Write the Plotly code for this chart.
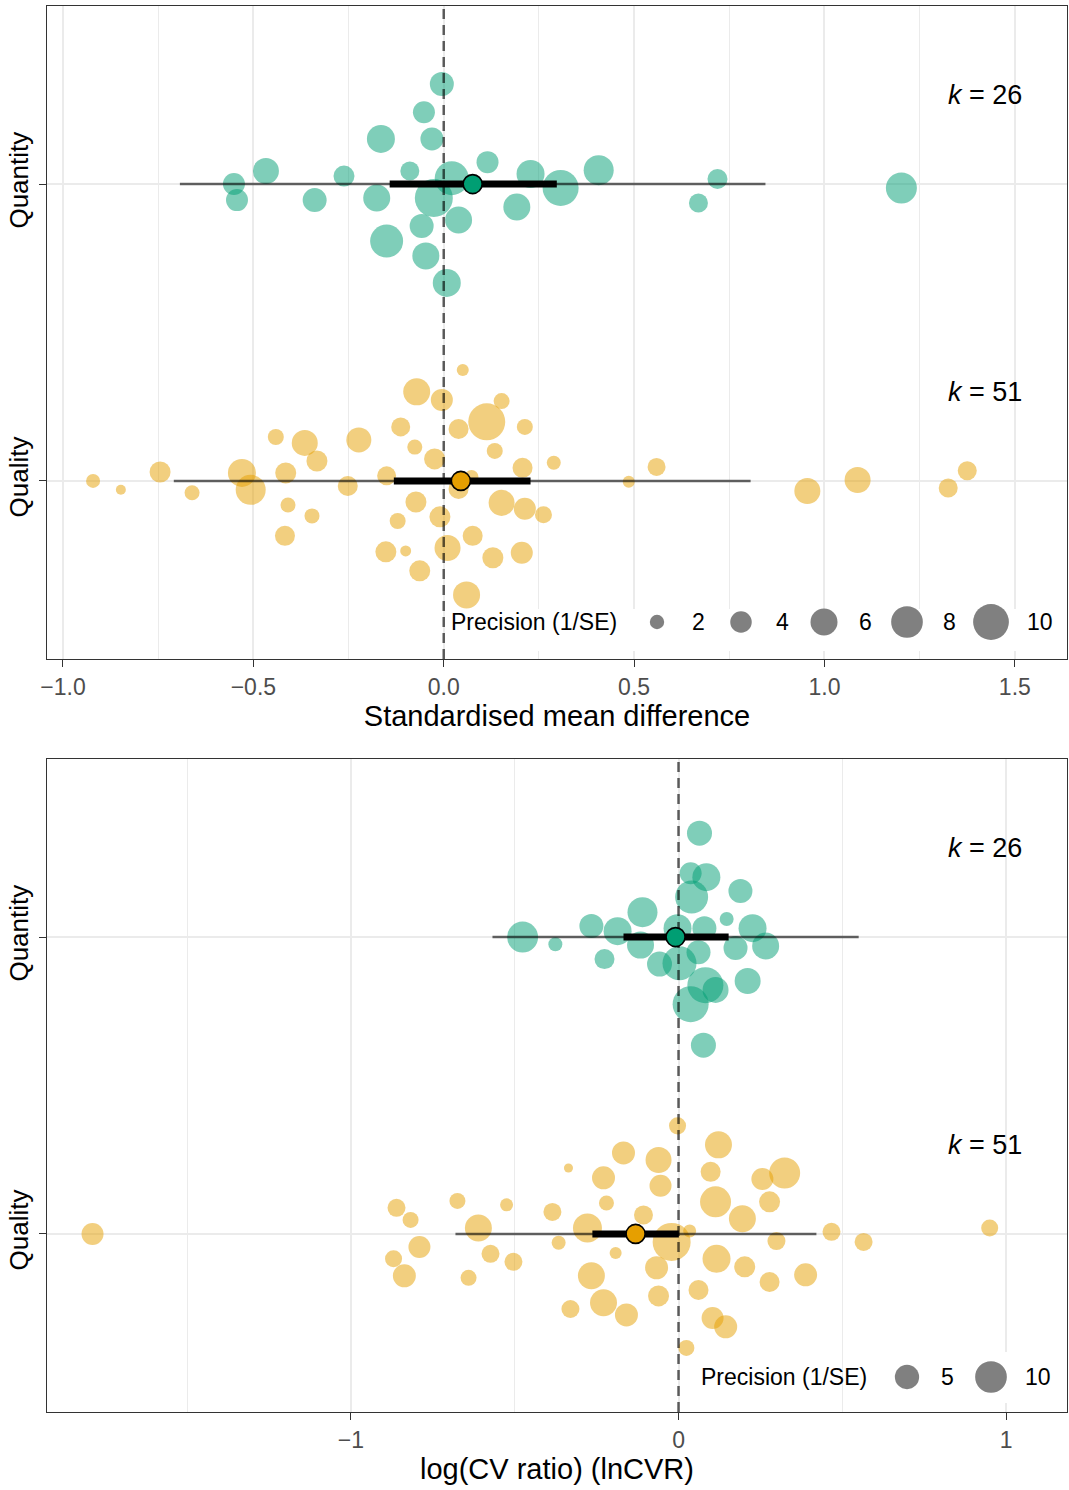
import numpy as np
import plotly.graph_objects as go

FONT = "Liberation Sans, Arial, Helvetica, sans-serif"

# ---------------- data ----------------
groups = ["Quality", "Quantity"]          # y positions 1, 2
group_colors = ["#E69F00", "#009E73"]

# Standardised mean difference panel: effect sizes, vertical jitter, precision (1/SE)
smd_quantity_x = [-0.005, -0.052, -0.165, -0.031, -0.467, -0.262, -0.089, 0.115, 0.228, -0.551,
                  0.021, 0.307, -0.543, -0.339, -0.176, -0.026, 0.192, 0.039, -0.058, -0.150,
                  -0.047, 0.008, 0.407, 0.719, 0.669, 1.202]
smd_quantity_jit = [0.337, 0.242, 0.152, 0.152, 0.044, 0.027, 0.044, 0.074, 0.034, 0.0,
                    0.020, -0.013, -0.054, -0.054, -0.047, -0.047, -0.077, -0.121, -0.141, -0.192,
                    -0.242, -0.333, 0.047, 0.017, -0.064, -0.013]
smd_quantity_prec = [4.85, 4.16, 6.39, 4.50, 5.60, 3.83, 3.22, 4.16, 6.39, 4.16,
                     9.11, 10.12, 4.16, 4.85, 5.99, 11.18, 5.99, 5.99, 4.85, 8.62,
                     5.99, 6.39, 7.25, 3.52, 3.22, 7.69]

smd_quality_x = [0.050, -0.071, -0.005, 0.152, 0.113, -0.113, 0.039, 0.213, -0.441, -0.365,
                 -0.223, -0.076, 0.134, -0.333, -0.024, 0.289, 0.207, -0.745, -0.530, -0.415,
                 -0.150, 0.073, -0.921, -0.848, -0.661, -0.507, -0.252, 0.039, -0.073, 0.152,
                 0.213, 0.262, -0.409, -0.346, -0.010, -0.121, -0.417, 0.076, 0.010, -0.152,
                 -0.100, 0.129, 0.205, -0.063, 0.060, 0.486, 0.559, 0.955, 1.087, 1.325, 1.375]
smd_quality_jit = [0.374, 0.300, 0.273, 0.269, 0.199, 0.182, 0.175, 0.182, 0.148, 0.128,
                   0.138, 0.114, 0.101, 0.067, 0.074, 0.061, 0.044, 0.030, 0.027, 0.027,
                   0.017, 0.013, 0.0, -0.030, -0.040, -0.030, -0.017, -0.027, -0.071, -0.074,
                   -0.094, -0.114, -0.081, -0.118, -0.121, -0.135, -0.185, -0.185, -0.226, -0.239,
                   -0.236, -0.259, -0.242, -0.303, -0.384, -0.003, 0.047, -0.034, 0.003, -0.024, 0.034]
smd_quality_prec = [1.50, 5.99, 4.16, 2.40, 10.64, 3.22, 3.52, 2.40, 2.40, 5.60,
                    5.22, 2.16, 2.40, 3.83, 3.83, 1.92, 3.52, 3.83, 6.39, 3.83,
                    3.22, 1.92, 1.92, 1.12, 2.16, 7.25, 3.52, 3.52, 3.83, 5.60,
                    4.16, 2.66, 2.16, 2.16, 3.83, 2.40, 3.52, 3.52, 5.60, 3.83,
                    1.30, 3.83, 4.16, 3.83, 5.99, 1.50, 2.93, 5.60, 5.60, 3.22, 3.22]

# summary estimates (order: Quality, Quantity)
smd_est = [0.045, 0.076]
smd_ci_lo = [-0.131, -0.142]
smd_ci_hi = [0.228, 0.297]
smd_pi_lo = [-0.709, -0.693]
smd_pi_hi = [0.806, 0.845]
smd_k = [51, 26]

# log CV ratio panel
cvr_quantity_x = [0.064, 0.037, 0.085, 0.189, 0.040, -0.110, 0.147, -0.266, -0.186, -0.003,
                  0.079, 0.226, -0.476, -0.376, -0.116, 0.174, 0.266, 0.061, -0.226, -0.058,
                  0.003, 0.082, 0.113, 0.211, 0.037, 0.076]
cvr_quantity_jit = [0.350, 0.215, 0.202, 0.155, 0.135, 0.084, 0.061, 0.037, 0.020, 0.030,
                    0.030, 0.030, 0.0, -0.024, -0.027, -0.037, -0.030, -0.051, -0.074, -0.091,
                    -0.088, -0.162, -0.178, -0.148, -0.226, -0.364]
cvr_quantity_prec = [5.41, 3.80, 7.29, 4.84, 11.06, 8.70, 0.90, 4.84, 7.29, 7.29,
                     4.84, 7.29, 9.46, 0.90, 6.63, 4.84, 6.63, 4.84, 2.89, 5.41,
                     11.90, 13.69, 6.00, 6.00, 13.69, 5.41]

cvr_quality_x = [-1.789, -0.861, -0.818, -0.675, -0.525, -0.611, -0.385, -0.791, -0.870, -0.837,
                 -0.574, -0.504, -0.641, -0.366, -0.003, 0.122, -0.168, -0.061, -0.336, 0.098,
                 0.324, 0.256, -0.229, -0.055, 0.113, 0.278, -0.220, -0.107, 0.195, -0.278,
                 0.034, -0.021, 0.467, 0.299, 0.565, 0.950, -0.192, 0.116, -0.067, 0.202,
                 -0.266, 0.388, 0.278, 0.061, -0.061, -0.229, -0.330, -0.159, 0.104, 0.144, 0.024]
cvr_quality_jit = [0.0, 0.088, 0.047, 0.111, 0.098, 0.020, 0.074, -0.044, -0.084, -0.141,
                   -0.067, -0.094, -0.148, -0.030, 0.364, 0.300, 0.273, 0.249, 0.222, 0.209,
                   0.205, 0.185, 0.189, 0.162, 0.108, 0.108, 0.104, 0.064, 0.051, 0.020,
                   0.010, -0.027, 0.007, -0.024, -0.027, 0.020, -0.064, -0.084, -0.114, -0.111,
                   -0.141, -0.138, -0.162, -0.189, -0.209, -0.232, -0.253, -0.273, -0.283, -0.313, -0.384]
cvr_quality_prec = [3.80, 2.10, 1.44, 1.44, 0.68, 6.63, 2.10, 3.80, 1.76, 4.31,
                    2.10, 2.10, 1.44, 0.90, 1.76, 6.63, 4.31, 6.00, 0.11, 2.89,
                    9.46, 3.80, 4.31, 3.80, 9.46, 3.33, 1.16, 2.48, 6.63, 7.98,
                    0.68, 15.60, 2.10, 2.10, 2.10, 1.76, 0.49, 7.29, 4.31, 3.33,
                    6.63, 4.31, 2.89, 2.89, 3.33, 6.63, 2.10, 4.31, 3.80, 4.31, 1.44]

cvr_est = [-0.131, -0.009]
cvr_ci_lo = [-0.263, -0.168]
cvr_ci_hi = [0.001, 0.153]
cvr_pi_lo = [-0.681, -0.568]
cvr_pi_hi = [0.421, 0.550]
cvr_k = [51, 26]

smd_legend_breaks = [2, 4, 6, 8, 10]
cvr_legend_breaks = [5, 10]

# ---------------- layout geometry (pixels) ----------------
W, H = 1069, 1490
ML, MR, MT, MB = 47, 2, 6, 78
TOP_PANEL = (6, 659)
BOT_PANEL = (759, 1412)
PLOT_H = H - MT - MB


def xdom(px):
    return (px - ML) / (W - ML - MR)


def ydom(py, panel):
    return (panel[1] - py) / (panel[1] - panel[0])


# size scales (diameter in px) for precision, one per panel
def size_smd(p):
    return 12.26 * np.sqrt(p) - 3.0


def size_cvr(p):
    return 8.0 * np.sqrt(p) + 6.4


fig = go.Figure()

YR = [0.4, 2.6]


def add_panel(xa, ya, pts, est, ci_lo, ci_hi, pi_lo, pi_hi, size_fn):
    for gi in range(2):
        x, jit, prec = pts[gi]
        fig.add_trace(go.Scatter(
            x=x, y=[gi + 1 + j for j in jit], mode="markers",
            marker=dict(size=[size_fn(p) for p in prec], color=group_colors[gi],
                        opacity=0.5, line=dict(width=0)),
            xaxis=xa, yaxis=ya, showlegend=False, hoverinfo="skip"))
    fig.add_trace(go.Scatter(
        x=[0, 0], y=YR, mode="lines",
        line=dict(color="rgba(0,0,0,0.62)", width=2.5, dash="10px,6px"),
        xaxis=xa, yaxis=ya, showlegend=False, hoverinfo="skip"))
    for gi in range(2):
        fig.add_trace(go.Scatter(
            x=[pi_lo[gi], pi_hi[gi]], y=[gi + 1, gi + 1], mode="lines",
            line=dict(color="rgba(0,0,0,0.6)", width=2.5),
            xaxis=xa, yaxis=ya, showlegend=False, hoverinfo="skip"))
        fig.add_trace(go.Scatter(
            x=[ci_lo[gi], ci_hi[gi]], y=[gi + 1, gi + 1], mode="lines",
            line=dict(color="black", width=7),
            xaxis=xa, yaxis=ya, showlegend=False, hoverinfo="skip"))
        fig.add_trace(go.Scatter(
            x=[est[gi]], y=[gi + 1], mode="markers",
            marker=dict(size=19, color=group_colors[gi], line=dict(color="black", width=1.6)),
            xaxis=xa, yaxis=ya, showlegend=False, hoverinfo="skip"))


add_panel("x", "y",
          [(smd_quality_x, smd_quality_jit, smd_quality_prec),
           (smd_quantity_x, smd_quantity_jit, smd_quantity_prec)],
          smd_est, smd_ci_lo, smd_ci_hi, smd_pi_lo, smd_pi_hi, size_smd)
add_panel("x2", "y2",
          [(cvr_quality_x, cvr_quality_jit, cvr_quality_prec),
           (cvr_quantity_x, cvr_quantity_jit, cvr_quantity_prec)],
          cvr_est, cvr_ci_lo, cvr_ci_hi, cvr_pi_lo, cvr_pi_hi, size_cvr)

annotations = []
shapes = []

# k labels
for ya, ks in (("y", smd_k), ("y2", cvr_k)):
    xref = "x domain" if ya == "y" else "x2 domain"
    for gi in range(2):
        annotations.append(dict(
            text=f"<i>k</i> = {ks[gi]}", xref=xref, yref=ya, x=xdom(985), y=gi + 1.3,
            xanchor="center", yanchor="middle", showarrow=False,
            font=dict(family=FONT, size=27, color="black")))


def add_size_legend(xa, ya, panel, box, title_x, key_x, lab_x, cy, breaks, size_fn):
    xr, yr = xa + " domain", ya + " domain"
    shapes.append(dict(type="rect", xref=xr, yref=yr,
                       x0=xdom(box[0]), x1=xdom(box[1]),
                       y0=ydom(box[3], panel), y1=ydom(box[2], panel),
                       fillcolor="white", line=dict(width=0), layer="above"))
    annotations.append(dict(text="Precision (1/SE)", xref=xr, yref=yr,
                            x=xdom(title_x), y=ydom(cy, panel), xanchor="left",
                            yanchor="middle", showarrow=False,
                            font=dict(family=FONT, size=23, color="black")))
    for b, kx, lx in zip(breaks, key_x, lab_x):
        r = size_fn(b) / 2
        shapes.append(dict(type="circle", xref=xr, yref=yr,
                           xsizemode="pixel", ysizemode="pixel",
                           xanchor=xdom(kx), yanchor=ydom(cy, panel),
                           x0=-r, x1=r, y0=-r, y1=r,
                           fillcolor="#808080", line=dict(width=0), layer="above"))
        annotations.append(dict(text=str(b), xref=xr, yref=yr,
                                x=xdom(lx), y=ydom(cy, panel), xanchor="center",
                                yanchor="middle", showarrow=False,
                                font=dict(family=FONT, size=23, color="black")))


add_size_legend("x", "y", TOP_PANEL, (447, 1064, 609, 651), 449,
                [657, 741, 824, 907, 991], [698, 782, 865, 949, 1040], 622,
                smd_legend_breaks, size_smd)
add_size_legend("x2", "y2", BOT_PANEL, (890, 1064, 1352, 1403), 699,
                [907, 991], [947, 1038], 1377,
                cvr_legend_breaks, size_cvr)

top_dom = [(H - MB - TOP_PANEL[1]) / PLOT_H, (H - MB - TOP_PANEL[0]) / PLOT_H]
bot_dom = [(H - MB - BOT_PANEL[1]) / PLOT_H, (H - MB - BOT_PANEL[0]) / PLOT_H]

axis_common = dict(showline=True, mirror=True, linecolor="#333333", linewidth=1.3,
                   ticks="outside", ticklen=7, tickwidth=1.3, tickcolor="#333333",
                   showgrid=True, gridcolor="#EBEBEB", gridwidth=1.6,
                   zeroline=False, automargin=False)

xaxis_font = dict(family=FONT, size=23, color="#4D4D4D")
title_font = dict(family=FONT, size=29, color="black")
ytick_font = dict(family=FONT, size=26, color="black")

fig.update_layout(
    width=W, height=H,
    margin=dict(l=ML, r=MR, t=MT, b=MB, pad=0),
    paper_bgcolor="white", plot_bgcolor="white",
    showlegend=False,
    font=dict(family=FONT),
    xaxis=dict(domain=[0, 1], anchor="y", range=[-1.042, 1.637],
               tickvals=[-1.0, -0.5, 0.0, 0.5, 1.0, 1.5], tickformat=".1f",
               tickfont=xaxis_font,
               minor=dict(tickvals=[-0.75, -0.25, 0.25, 0.75, 1.25], showgrid=True,
                          gridcolor="#EBEBEB", gridwidth=0.9, ticks=""),
               title=dict(text="Standardised mean difference", font=title_font, standoff=4),
               **axis_common),
    yaxis=dict(domain=top_dom, anchor="x", range=YR, tickvals=[1, 2], ticktext=groups,
               tickangle=-90, tickfont=ytick_font, **axis_common),
    xaxis2=dict(domain=[0, 1], anchor="y2", range=[-1.928, 1.186],
                tickvals=[-1, 0, 1], tickfont=xaxis_font,
                minor=dict(tickvals=[-1.5, -0.5, 0.5], showgrid=True,
                           gridcolor="#EBEBEB", gridwidth=0.9, ticks=""),
                title=dict(text="log(CV ratio) (lnCVR)", font=title_font, standoff=4),
                **axis_common),
    yaxis2=dict(domain=bot_dom, anchor="x2", range=YR, tickvals=[1, 2], ticktext=groups,
                tickangle=-90, tickfont=ytick_font, **axis_common),
    annotations=annotations,
    shapes=shapes,
)

fig.write_html("out.html")
